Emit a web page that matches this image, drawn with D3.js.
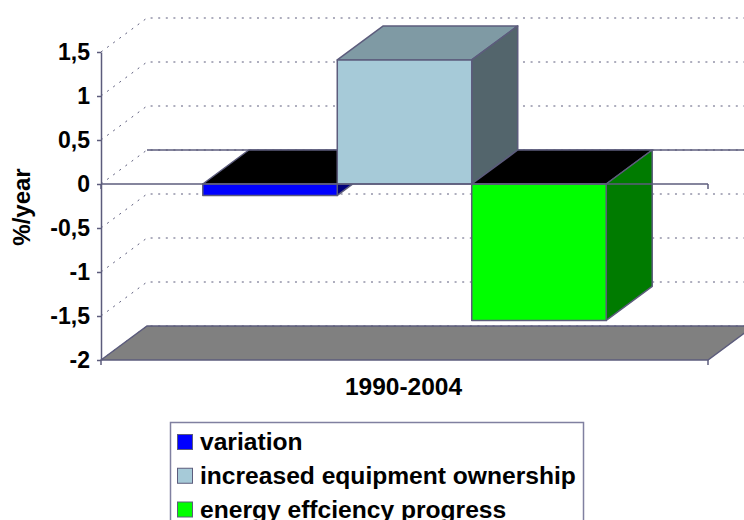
<!DOCTYPE html>
<html>
<head>
<meta charset="utf-8">
<script src="https://cdn.jsdelivr.net/npm/d3@7"></script>
<style>
  html, body { margin: 0; padding: 0; background: #fff; overflow: hidden; }
  text { font-family: "Liberation Sans", Arial, sans-serif; font-weight: bold; fill: #000; }
</style>
</head>
<body>
<div id="chart"></div>
<script>
// data
const categories = ["1990-2004"];
const seriesNames = ["variation", "increased equipment ownership", "energy effciency progress"];
const seriesValues = [-0.13, 1.41, -1.55];
const tickValues = [1.5, 1, 0.5, 0, -0.5, -1, -1.5, -2];
const tickLabels = ["1,5", "1", "0,5", "0", "-0,5", "-1", "-1,5", "-2"];
const frontColors = ["#0000ff", "#a6cad8", "#00ff00"];
const topColors = ["#000000", "#7f9aa4", "#000000"];
const sideColors = ["#00007b", "#53656c", "#007b00"];

const width = 744, height = 520;
const left = 101, right = 708, top3d = 52, bottom = 360;
// offset of the back wall
const depthX = 46, depthY = -34;
const lineColor = "#5c5c7c";

const svg = d3.select("#chart").append("svg")
    .attr("width", width)
    .attr("height", height)
    .style("display", "block");

const y = d3.scaleLinear().domain([-2, 1.5]).range([bottom, top3d]);
const x0 = d3.scaleBand().domain(categories).range([left, right]);
const x1 = d3.scaleBand().domain(seriesNames).range([left, right])
    .paddingInner(0).paddingOuter(0.757);

// turn a front-plane point into a polygon string, "true" means pushed to the back wall
function poly(points) {
  return points.map(function(p) {
    return p[2] ? [p[0] + depthX, p[1] + depthY] : [p[0], p[1]];
  }).join(" ");
}

// floor
svg.append("polygon")
    .attr("points", poly([[left, y(-2)], [left, y(-2), true], [right, y(-2), true], [right, y(-2)]]))
    .attr("fill", "#808080")
    .attr("stroke", lineColor)
    .attr("stroke-width", 1.5);

// dotted gridlines over side wall and back wall
const grid = svg.append("g").attr("class", "grid");
tickValues.forEach(function(v) {
  grid.append("polyline")
      .attr("points", poly([[left, y(v)], [left, y(v), true], [right, y(v), true]]))
      .attr("fill", "none")
      .attr("stroke", lineColor)
      .attr("stroke-width", 1)
      .attr("stroke-dasharray", "2 5.6");
});

// solid zero line on the back wall
svg.append("line")
    .attr("x1", left + depthX).attr("x2", right + depthX)
    .attr("y1", y(0) + depthY).attr("y2", y(0) + depthY)
    .attr("stroke", lineColor)
    .attr("stroke-width", 1.5);

// bars, painted left to right so each one covers the side of the one before
seriesNames.forEach(function(name, i) {
  const a = x1(name), b = a + x1.bandwidth();
  const y0 = y(0), yv = y(seriesValues[i]);
  const yTop = Math.min(y0, yv), yBot = Math.max(y0, yv);
  const g = svg.append("g")
      .attr("class", "bar")
      .attr("stroke", lineColor)
      .attr("stroke-width", 1.5)
      .attr("stroke-linejoin", "round");
  g.append("polygon")
      .attr("points", poly([[a, yTop], [a, yTop, true], [b, yTop, true], [b, yTop]]))
      .attr("fill", topColors[i]);
  g.append("polygon")
      .attr("points", poly([[b, yTop], [b, yTop, true], [b, yBot, true], [b, yBot]]))
      .attr("fill", sideColors[i]);
  g.append("rect")
      .attr("x", a).attr("y", yTop)
      .attr("width", b - a).attr("height", yBot - yTop)
      .attr("fill", frontColors[i]);
});

// y axis
const yAxis = svg.append("g")
    .attr("transform", "translate(" + left + ",0)")
    .call(d3.axisLeft(y)
      .tickValues(tickValues)
      .tickFormat(function(d, i) { return tickLabels[i]; })
      .tickSize(4)
      .tickSizeOuter(0)
      .tickPadding(7));
yAxis.selectAll("path, line").attr("stroke", lineColor).attr("stroke-width", 1.5);
yAxis.selectAll("text").style("font-size", "23px").attr("fill", "#000");
yAxis.attr("font-family", null).attr("font-size", null);

// zero line with the end tick, and the ticks under the floor
const x0Ends = [x0.range()[0], x0.range()[1]];
svg.append("line")
    .attr("x1", x0Ends[0]).attr("x2", x0Ends[1])
    .attr("y1", y(0)).attr("y2", y(0))
    .attr("stroke", lineColor).attr("stroke-width", 1.5);
x0Ends.forEach(function(px) {
  [0, -2].forEach(function(v) {
    svg.append("line")
        .attr("x1", px).attr("x2", px)
        .attr("y1", y(v)).attr("y2", y(v) + 5)
        .attr("stroke", lineColor).attr("stroke-width", 1.5);
  });
});

// axis titles
svg.append("text")
    .attr("x", x0(categories[0]) + x0.bandwidth() / 2 - 1)
    .attr("y", 395)
    .attr("text-anchor", "middle")
    .style("font-size", "24.5px")
    .text(categories[0]);

svg.append("text")
    .attr("transform", "translate(30,207) rotate(-90)")
    .attr("text-anchor", "middle")
    .style("font-size", "24px")
    .text("%/year");

// legend, its bottom edge runs off the page
const legend = svg.append("g").attr("class", "legend");
legend.append("rect")
    .attr("x", 170.5).attr("y", 422.5)
    .attr("width", 413).attr("height", 110)
    .attr("fill", "#fff")
    .attr("stroke", "#8080a0")
    .attr("stroke-width", 1.5);

const legendY = d3.scalePoint().domain(seriesNames).range([450, 517.5]);
seriesNames.forEach(function(name, i) {
  legend.append("rect")
      .attr("x", 177.5).attr("y", legendY(name) - 15.5)
      .attr("width", 15).attr("height", 15)
      .attr("fill", frontColors[i])
      .attr("stroke", lineColor)
      .attr("stroke-width", 1);
  legend.append("text")
      .attr("x", 200).attr("y", legendY(name))
      .style("font-size", "24.6px")
      .text(name);
});
</script>
</body>
</html>
